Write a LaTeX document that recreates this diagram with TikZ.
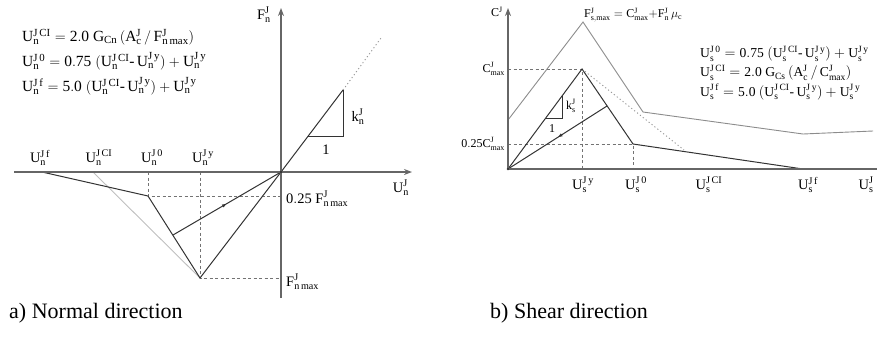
\documentclass[tikz,border=0pt]{standalone}
\usepackage{fontspec}
\setmainfont{Liberation Serif}
\usetikzlibrary{arrows.meta,decorations.markings}
\newcommand{\hy}{\mbox{-}\,}
\begin{document}
\begin{tikzpicture}[x=1pt,y=-1pt,
 axis/.style={draw=black!60, line width=1.5pt, -{Stealth[length=8pt,width=6pt]}},
 axisplain/.style={draw=black!60, line width=1.5pt},
 curve/.style={draw=black!80, line width=1pt},
 light/.style={draw=black!25, line width=0.9pt},
 upper/.style={draw=black!45, line width=0.9pt},
 guide/.style={draw=black!55, dash pattern=on 3pt off 2.5pt, line width=0.5pt},
 dotline/.style={draw=black!40, dash pattern=on 1.2pt off 2.5pt, line width=0.9pt},
 lbl/.style={font=\fontsize{14.5}{16}\selectfont, inner sep=1pt},
 sml/.style={font=\fontsize{12}{14}\selectfont, inner sep=1pt},
 frm/.style={font=\fontsize{15.5}{17}\selectfont, anchor=west, inner sep=0pt},
 frmr/.style={font=\fontsize{13.6}{15}\selectfont, anchor=west, inner sep=0pt},
 captext/.style={font=\fontsize{22}{24}\selectfont, anchor=west, inner sep=0pt},
 unload/.style={curve, postaction={decorate}, decoration={markings, mark=at position 0.5 with {\arrow{Latex[length=5pt,width=3.5pt]}}}}
]
\useasboundingbox (0,0) rectangle (877,338);

% ================= left panel: normal direction =================
\coordinate (O1) at (281,172);
\coordinate (xL) at (14,172);
\coordinate (xR) at (412,172);
\coordinate (yB) at (281,298);
\coordinate (yT) at (281,8);
\coordinate (Pk) at (343,90);
\coordinate (Pd) at (381,38);
\coordinate (T1) at (308,136);
\coordinate (T2) at (343,136);
\coordinate (Uf) at (42,172);
\coordinate (CI) at (93,172);
\coordinate (U0) at (148,196);
\coordinate (U0a) at (148,172);
\coordinate (Uy) at (200,278);
\coordinate (Uya) at (200,172);
\coordinate (Q1) at (281,196);
\coordinate (Q2) at (281,278);
\coordinate (R1) at (173,235);

\draw[guide] (U0a) -- (U0) -- (Q1);
\draw[guide] (Uya) -- (Uy) -- (Q2);
\draw[light] (CI) -- (Uy);
\draw[curve] (O1) -- (Uy) -- (U0) -- (Uf);
\draw[unload] (R1) -- (O1);
\draw[curve] (O1) -- (Pk);
\draw[dotline] (Pk) -- (Pd);
\draw[curve, line width=0.6pt] (T1) -- (T2) -- (Pk);
\draw[axis] (xL) -- (xR);
\draw[axis] (yB) -- (yT);
\fill[black!80] (O1) circle (1.4pt);

\node[lbl] (lFn) at (264,15) {$\mathrm{F_n^J}$};
\node[lbl] (lUn) at (401,188) {$\mathrm{U_n^J}$};
\node[lbl] (lk) at (358,117) {$\mathrm{k_n^J}$};
\node[lbl] (l1) at (326,150) {1};
\node[lbl] (lUf) at (40,158) {$\mathrm{U_n^{J\,f}}$};
\node[lbl] (lUCI) at (99,158) {$\mathrm{U_n^{J\,CI}}$};
\node[lbl] (lU0) at (152,158) {$\mathrm{U_n^{J\,0}}$};
\node[lbl] (lUy) at (203,158) {$\mathrm{U_n^{J\,y}}$};
\node[lbl, anchor=west] (l025) at (285,199) {$\mathrm{0.25\ F_{n\,max}^J}$};
\node[lbl, anchor=west] (lFmax) at (285,282) {$\mathrm{F_{n\,max}^J}$};

\node[frm] (f1) at (22,37) {$\mathrm{U_n^{J\,CI} = 2.0\ G_{Cn}\,(A_c^J\,/\,F_{n\,max}^J)}$};
\node[frm] (f2) at (22,61) {$\mathrm{U_n^{J\,0} = 0.75\ (U_n^{J\,CI}\hy U_n^{J\,y}) + U_n^{J\,y}}$};
\node[frm] (f3) at (22,86) {$\mathrm{U_n^{J\,f} = 5.0\ (U_n^{J\,CI}\hy U_n^{J\,y}) + U_n^{J\,y}}$};

% ================= right panel: shear direction =================
\coordinate (O2) at (508,169);
\coordinate (sxR) at (877,169);
\coordinate (syT) at (508,8);
\coordinate (Sp) at (582,69);
\coordinate (Spa) at (582,169);
\coordinate (Sk) at (633,144);
\coordinate (Ska) at (633,169);
\coordinate (Sf) at (803,169);
\coordinate (Cm) at (508,69);
\coordinate (Cq) at (508,144);
\coordinate (A0) at (508,120);
\coordinate (A1) at (583,22);
\coordinate (A2) at (643,112);
\coordinate (A3) at (803,134);
\coordinate (A4) at (873,131);
\coordinate (D1) at (684,150);
\coordinate (R2) at (607,106);
\coordinate (S1) at (546,118);
\coordinate (S2) at (562,118);
\coordinate (S3) at (562,96);

\draw[guide] (Cm) -- (Sp) -- (Spa);
\draw[guide] (Cq) -- (Sk) -- (Ska);
\draw[upper] (A0) -- (A1) -- (A2) -- (A3) -- (A4);
\draw[dotline] (Sp) -- (D1);
\draw[curve] (O2) -- (Sp) -- (Sk) -- (Sf);
\draw[unload] (R2) -- (O2);
\draw[curve, line width=0.6pt] (S1) -- (S2) -- (S3);
\draw[axisplain] (O2) -- (sxR);
\draw[axis] (O2) -- (syT);
\fill[black!80] (O2) circle (1.4pt);

\node[sml] (lC) at (497,12) {$\mathrm{C^J}$};
\node[sml, anchor=east] (lCm) at (506,69) {$\mathrm{C_{max}^J}$};
\node[sml, anchor=east] (lCq) at (506,144) {$\mathrm{0.25C_{max}^J}$};
\node[sml, anchor=west] (lFs) at (583,15) {$\mathrm{F_{s,max}^J = C_{max}^J{+}F_n^J\,\mu_c}$};
\node[sml] (lks) at (571,106) {$\mathrm{k_s^J}$};
\node[sml] (l1s) at (552,129) {1};
\node[lbl] (lSy) at (583,185) {$\mathrm{U_s^{J\,y}}$};
\node[lbl] (lS0) at (636,185) {$\mathrm{U_s^{J\,0}}$};
\node[lbl] (lSCI) at (709,185) {$\mathrm{U_s^{J\,CI}}$};
\node[lbl] (lSf) at (808,185) {$\mathrm{U_s^{J\,f}}$};
\node[lbl] (lUs) at (866,185) {$\mathrm{U_s^J}$};

\node[frmr] (g1) at (700,54) {$\mathrm{U_s^{J\,0} = 0.75\ (U_s^{J\,CI}\hy U_s^{J\,y}) + U_s^{J\,y}}$};
\node[frmr] (g2) at (700,73) {$\mathrm{U_s^{J\,CI} = 2.0\ G_{Cs}\,(A_c^J\,/\,C_{max}^J)}$};
\node[frmr] (g3) at (700,92) {$\mathrm{U_s^{J\,f} = 5.0\ (U_s^{J\,CI}\hy U_s^{J\,y}) + U_s^{J\,y}}$};

% ================= captions =================
\node[captext] (ca) at (9,313) {a) Normal direction};
\node[captext] (cb) at (490,313) {b) Shear direction};
\end{tikzpicture}
\end{document}
